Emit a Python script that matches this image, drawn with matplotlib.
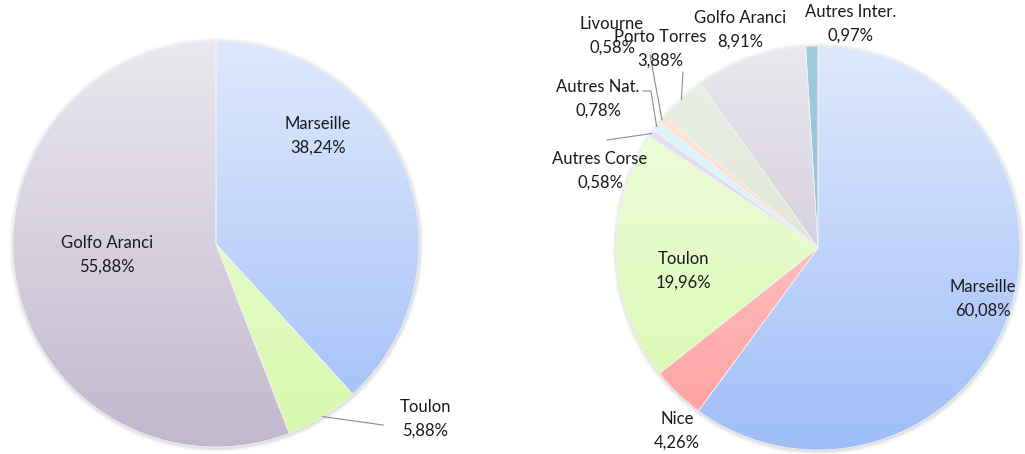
import matplotlib
matplotlib.use("Agg")
import matplotlib.pyplot as plt
import numpy as np
from matplotlib.colors import to_rgb
from matplotlib.patches import Circle

# --- data -------------------------------------------------------------
left_names = ["Marseille", "Toulon", "Golfo Aranci"]
left_values = [38.24, 5.88, 55.88]

right_names = ["Marseille", "Nice", "Toulon", "Autres Corse", "Autres Nat.",
               "Livourne", "Porto Torres", "Golfo Aranci", "Autres Inter."]
right_values = [60.08, 4.26, 19.96, 0.58, 0.78, 0.58, 3.88, 8.91, 0.97]

# gradient colours per port (top, bottom)
port_colors = {
    "Marseille": ("#dfe9fd", "#9fbef8"),
    "Nice": ("#ffd8d8", "#ff9f9f"),
    "Toulon": ("#f4fde8", "#d6f9aa"),
    "Autres Corse": ("#e9e5f6", "#d4cdea"),
    "Autres Nat.": ("#e4f7fe", "#c9effc"),
    "Livourne": ("#feeadd", "#fcd2b8"),
    "Porto Torres": ("#ebf0e6", "#d6dfcb"),
    "Golfo Aranci": ("#ebe8ef", "#c0b8cd"),
    "Autres Inter.": ("#9ccbdc", "#88bdd1"),
}

# --- layout (pixel coords, y up) ---------------------------------------
W, H = 1025, 454
left_pie = dict(cx=216, cy=H - 244, r=203)
right_pie = dict(cx=818, cy=H - 248, r=202)

# label centre positions, y measured from the top of the image
left_label_pos = {"Marseille": (318, 136), "Toulon": (425, 419), "Golfo Aranci": (107, 255)}
right_label_pos = {
    "Marseille": (983, 299), "Nice": (677, 431), "Toulon": (683, 271),
    "Autres Corse": (600, 171), "Autres Nat.": (598, 99), "Livourne": (612, 36),
    "Porto Torres": (660, 49), "Golfo Aranci": (740, 30), "Autres Inter.": (851, 24),
}
# leader lines: label-side points (y from top); the other end sits on the wedge
left_leaders = {"Toulon": [(383, 425)]}
right_leaders = {
    "Porto Torres": [(683, 72)],
    "Livourne": [(650, 55)],
    "Autres Nat.": [(643, 91), (651, 91)],
    "Autres Corse": [(607, 140)],
}

plt.rcParams["font.family"] = ["Lato", "DejaVu Sans"]

fig = plt.figure(figsize=(W / 100, H / 100), dpi=100)
ax = fig.add_axes([0, 0, 1, 1])
ax.set_axis_off()


def fmt(v):
    return f"{v:.2f}".replace(".", ",") + "%"


def draw_pie(names, values, geo, label_pos, leaders):
    cx, cy, r = geo["cx"], geo["cy"], geo["r"]
    # soft shadow
    for k, a in [(4, 0.05), (2.5, 0.08), (1.2, 0.12)]:
        ax.add_patch(Circle((cx + 0.5, cy - 1), r + k, color="#808080", alpha=a, lw=0, zorder=0))
    wedges, _ = ax.pie(values, center=(cx, cy), radius=r, startangle=90,
                       counterclock=False, frame=True,
                       wedgeprops=dict(edgecolor="#f4f4f4", linewidth=0.5))
    for w, name in zip(wedges, names):
        top, bot = port_colors[name]
        t = np.linspace(0, 1, 256)[:, None]
        grad = (1 - t) * np.array(to_rgb(top)) + t * np.array(to_rgb(bot))
        w.set_facecolor("none")
        w.set_zorder(3)
        im = ax.imshow(grad[:, None, :], extent=(cx - r, cx + r, cy - r, cy + r),
                       origin="upper", aspect="auto", interpolation="bilinear", zorder=2)
        im.set_clip_path(w)
    total = sum(values)
    start = 90.0
    for name, v in zip(names, values):
        theta = start - v / total * 360 / 2
        start -= v / total * 360
        lx, ly = label_pos[name]
        ax.text(lx, H - ly, f"{name}\n{fmt(v)}", ha="center", va="center",
                fontsize=12, color="#1a1a1a", linespacing=1.55, zorder=5)
        if name in leaders:
            ex = cx + r * np.cos(np.radians(theta))
            ey = cy + r * np.sin(np.radians(theta))
            pts = [(x, H - y) for x, y in leaders[name]] + [(ex, ey)]
            xs, ys = zip(*pts)
            ax.plot(xs, ys, color="#8c8c8c", lw=0.8, zorder=4)


draw_pie(left_names, left_values, left_pie, left_label_pos, left_leaders)
draw_pie(right_names, right_values, right_pie, right_label_pos, right_leaders)

ax.set_xlim(0, W)
ax.set_ylim(0, H)
ax.set_aspect("auto")
ax.set_axis_off()

fig.savefig("out.png", dpi=100, facecolor="white")
